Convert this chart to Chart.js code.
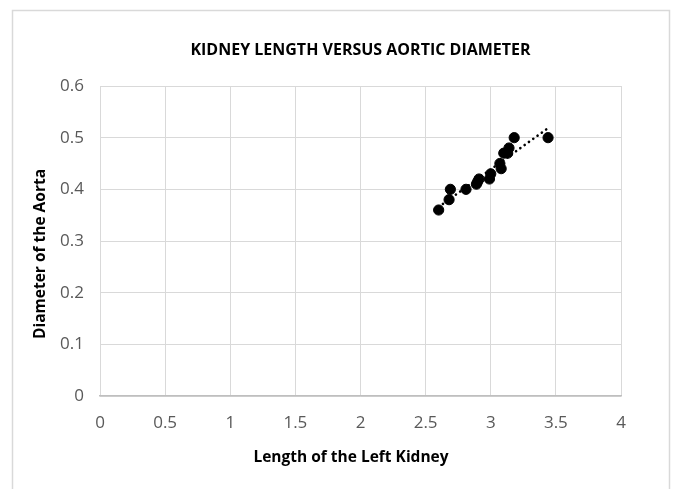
<!DOCTYPE html>
<html><head><meta charset="utf-8">
<script src="https://cdn.jsdelivr.net/npm/chart.js@4/dist/chart.umd.min.js"></script>
<style>html,body{margin:0;padding:0;background:#fff}#wrap{position:relative;width:673px;height:489px}</style>
</head><body><div id="wrap"><canvas id="c" width="673" height="489"></canvas></div>
<script>
const chartTitle = 'KIDNEY LENGTH VERSUS AORTIC DIAMETER';
const xAxisTitle = 'Length of the Left Kidney';
const yAxisTitle = 'Diameter of the Aorta';
const kidneyLength = [2.60, 2.68, 2.69, 2.81, 2.89, 2.90, 2.91, 2.99, 3.00, 3.07, 3.08, 3.10, 3.13, 3.14, 3.18, 3.44];
const aortaDiameter = [0.36, 0.38, 0.40, 0.40, 0.41, 0.415, 0.42, 0.42, 0.43, 0.45, 0.44, 0.47, 0.47, 0.48, 0.50, 0.50];
const xTicks = [0, 0.5, 1, 1.5, 2, 2.5, 3, 3.5, 4];
const yTicks = [0, 0.1, 0.2, 0.3, 0.4, 0.5, 0.6];

const FONT = "'Open Sans', sans-serif";

// linear trendline (least squares)
const n = kidneyLength.length;
const mx = kidneyLength.reduce((a,b)=>a+b,0)/n;
const my = aortaDiameter.reduce((a,b)=>a+b,0)/n;
let sxy=0,sxx=0;
for(let i=0;i<n;i++){sxy+=(kidneyLength[i]-mx)*(aortaDiameter[i]-my);sxx+=(kidneyLength[i]-mx)**2;}
const slope=sxy/sxx, icpt=my-slope*mx;
const xmin=Math.min(...kidneyLength), xmax=Math.max(...kidneyLength);
const trend=[{x:xmin,y:icpt+slope*xmin},{x:xmax,y:icpt+slope*xmax}];

const frame = {
  id:'frame',
  beforeDraw(ch){
    const c=ch.ctx; c.save();
    c.strokeStyle='#d9d9d9'; c.lineWidth=1.5;
    c.strokeRect(12.5,10.5,657,490);
    c.restore();
  },
  afterDraw(ch){
    const c=ch.ctx, a=ch.chartArea; c.save();
    c.fillStyle='#000'; c.textAlign='center'; c.textBaseline='middle';
    c.font="bold 16px "+FONT;
    c.fillText(chartTitle,(a.left+a.right)/2,50);
    c.font="bold 15.5px "+FONT;
    c.fillText(xAxisTitle,351,458);
    c.translate(41,254); c.rotate(-Math.PI/2);
    c.font="bold 15.5px "+FONT;
    c.fillText(yAxisTitle,0,0);
    c.restore();
  }
};

new Chart(document.getElementById('c'),{
  type:'scatter',
  data:{datasets:[
    {label:'Linear trend',type:'line',data:trend,borderColor:'#000',borderWidth:2.6,borderDash:[0.1,5.2],borderCapStyle:'round',pointRadius:0,fill:false,order:2},
    {label:'Kidney length vs aortic diameter',data:kidneyLength.map((x,i)=>({x,y:aortaDiameter[i]})),backgroundColor:'#000',borderColor:'#000',pointRadius:5.1,pointHoverRadius:5.1,order:1}
  ]},
  options:{
    responsive:false,animation:false,devicePixelRatio:1,
    layout:{padding:{left:0,right:52,top:86,bottom:0}},
    plugins:{legend:{display:false},tooltip:{enabled:false},title:{display:false}},
    scales:{
      x:{type:'linear',min:0,max:4,
        afterBuildTicks(s){s.ticks=xTicks.map(v=>({value:v}));},
        afterFit(s){s.height=93;},
        grid:{color:'#d9d9d9',lineWidth:1,drawTicks:false},
        border:{color:'#bfbfbf',width:1.5},
        ticks:{color:'#595959',font:{family:FONT,size:17},padding:17,maxRotation:0,callback:v=>String(v)},
        title:{display:false}
      },
      y:{type:'linear',min:0,max:0.6,
        afterBuildTicks(s){s.ticks=yTicks.map(v=>({value:v}));},
        afterFit(s){s.width=100;},
        grid:{color:'#d9d9d9',lineWidth:1,drawTicks:false},
        border:{display:false},
        ticks:{color:'#595959',font:{family:FONT,size:17},padding:16,callback:v=>String(v)},
        title:{display:false}
      }
    }
  },
  plugins:[frame]
});
</script></body></html>
